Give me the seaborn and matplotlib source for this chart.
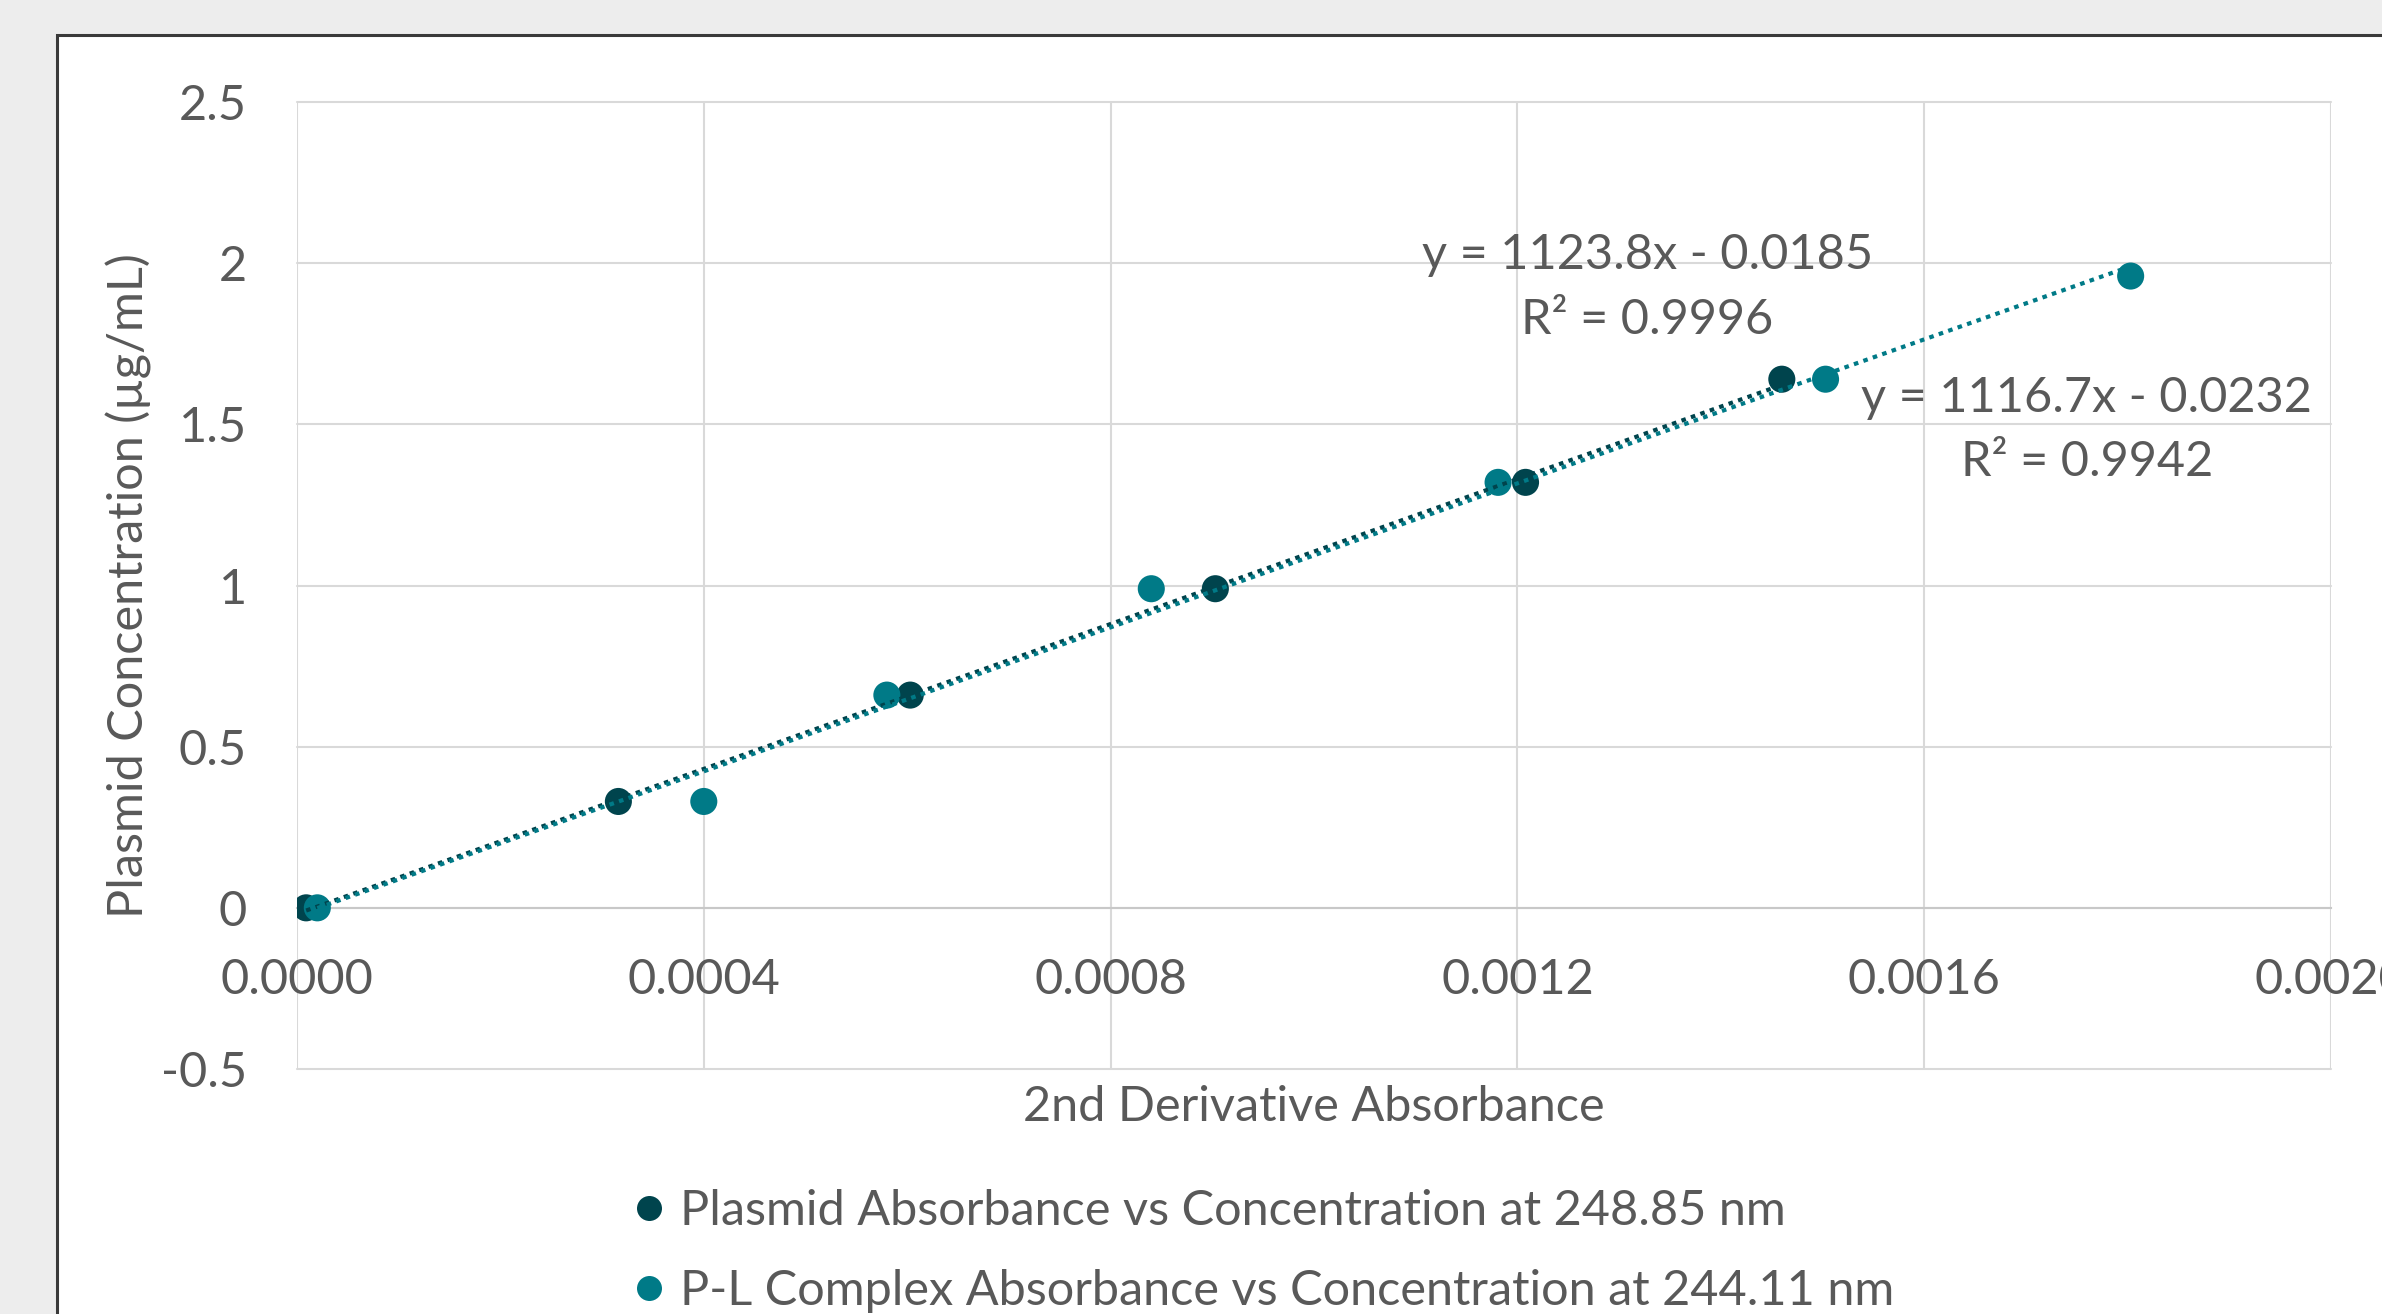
import numpy as np
import pandas as pd
import matplotlib
matplotlib.use("Agg")
import matplotlib.pyplot as plt
import seaborn as sns
from matplotlib.patches import Rectangle
from matplotlib.lines import Line2D

# ---------------- data ----------------
series_names = [
    "Plasmid Absorbance vs Concentration at 248.85 nm",
    "P-L Complex Absorbance vs Concentration at 244.11 nm",
]
plasmid_x = [0.000009, 0.000316, 0.000603, 0.000903, 0.001208, 0.001460]
plasmid_y = [0.0, 0.33, 0.66, 0.99, 1.32, 1.64]
complex_x = [0.000020, 0.000400, 0.000580, 0.000840, 0.001181, 0.001503, 0.001803]
complex_y = [0.0, 0.33, 0.66, 0.99, 1.32, 1.64, 1.96]

trend_slopes = [1123.8, 1116.7]
trend_intercepts = [-0.0185, -0.0232]
trend_r2 = [0.9996, 0.9942]

x_ticks = [0.0, 0.0004, 0.0008, 0.0012, 0.0016, 0.0020]
x_tick_labels = ["0.0000", "0.0004", "0.0008", "0.0012", "0.0016", "0.0020"]
y_ticks = [-0.5, 0.0, 0.5, 1.0, 1.5, 2.0, 2.5]
y_tick_labels = ["-0.5", "0", "0.5", "1", "1.5", "2", "2.5"]

x_title = "2nd Derivative Absorbance"
y_title = "Plasmid Concentration (µg/mL)"

colors = ["#00444D", "#007A87"]
text_color = "#595959"
grid_color = "#D9D9D9"

# ---------------- style ----------------
sns.set_theme(style="white")
plt.rcParams["font.family"] = ["Lato", "DejaVu Sans"]
FS = 35

W, H, DPI = 2382, 1314, 100
fig = plt.figure(figsize=(W / DPI, H / DPI), dpi=DPI, facecolor="#EDEDED")

# chart area (white box with dark border, running off the right/bottom edge)
fig.patches.append(Rectangle((57 / W, -0.1), 1.5, (1 - 35 / H) + 0.1,
                             transform=fig.transFigure, facecolor="white",
                             edgecolor="#3A3A3A", linewidth=2.2, zorder=-10))

left, right, top, bottom = 297, 2331, 102, 1069
ax = fig.add_axes([left / W, 1 - bottom / H, (right - left) / W, (bottom - top) / H])
ax.set_facecolor("none")
ax.set_zorder(1)

df = pd.DataFrame({
    "x": plasmid_x + complex_x,
    "y": plasmid_y + complex_y,
    "series": [series_names[0]] * len(plasmid_x) + [series_names[1]] * len(complex_x),
})

sns.scatterplot(data=df, x="x", y="y", hue="series", hue_order=series_names,
                palette=colors, s=380, edgecolor="none", linewidth=0,
                legend=False, ax=ax, zorder=3)

# linear trendlines (Excel style, round-dot)
for xs_src, slope, icpt, c in [(plasmid_x, trend_slopes[0], trend_intercepts[0], colors[0]),
                               (complex_x, trend_slopes[1], trend_intercepts[1], colors[1])]:
    xs = np.array([min(xs_src), max(xs_src)])
    ys = slope * xs + icpt
    sns.lineplot(x=xs, y=ys, ax=ax, color=c, lw=3.0, sort=False, estimator=None,
                 linestyle=(0, (1.1, 1.3)), zorder=4)

ax.set_xlim(0, 0.002)
ax.set_ylim(-0.5, 2.5)
ax.set_xticks(x_ticks)
ax.set_xticklabels(x_tick_labels)
ax.set_yticks(y_ticks)
ax.set_yticklabels(y_tick_labels)
ax.tick_params(axis="both", length=0, labelsize=FS, labelcolor=text_color)
ax.tick_params(axis="x", pad=36)
ax.tick_params(axis="y", pad=36)
ax.set_xlabel("")
ax.set_ylabel("")

ax.grid(True, color=grid_color, linewidth=1.5)
for gl in ax.get_xgridlines() + ax.get_ygridlines():
    gl.set_clip_on(False)
for s in ["top", "right", "left"]:
    ax.spines[s].set_visible(False)
ax.spines["bottom"].set_position(("data", 0))
ax.spines["bottom"].set_color("#C8C8C8")
ax.spines["bottom"].set_linewidth(1.5)
ax.set_axisbelow(True)

# equation labels
eq_pos = [((0.664, 0.842), (0.664, 0.775)), ((0.880, 0.694), (0.880, 0.628))]
for (p1, p2), slope, icpt, r2 in zip(eq_pos, trend_slopes, trend_intercepts, trend_r2):
    sign = "-" if icpt < 0 else "+"
    ax.text(*p1, f"y = {slope:.1f}x {sign} {abs(icpt):.4f}", transform=ax.transAxes,
            ha="center", va="center", fontsize=FS, color=text_color, zorder=5)
    ax.text(*p2, f"R² = {r2:.4f}", transform=ax.transAxes,
            ha="center", va="center", fontsize=FS, color=text_color, zorder=5)

# axis titles
fig.text((left + right) / 2 / W, 1 - 1107 / H, x_title, ha="center", va="center",
         fontsize=FS, color=text_color)
fig.text(129 / W, 1 - ((top + bottom) / 2) / H, y_title, ha="center", va="center",
         rotation=90, fontsize=FS, color=text_color)

# legend
handles = [Line2D([0], [0], marker="o", linestyle="none", markersize=18,
                  markerfacecolor=c, markeredgecolor="none") for c in colors]
fig.legend(handles, series_names, loc="upper left", bbox_to_anchor=(634 / W, 1 - 1189 / H),
           frameon=False, fontsize=FS, labelcolor=text_color, borderpad=0,
           handlelength=0.6, handletextpad=0.35, labelspacing=0.75, borderaxespad=0)

fig.savefig("out.png", dpi=DPI, facecolor=fig.get_facecolor())
